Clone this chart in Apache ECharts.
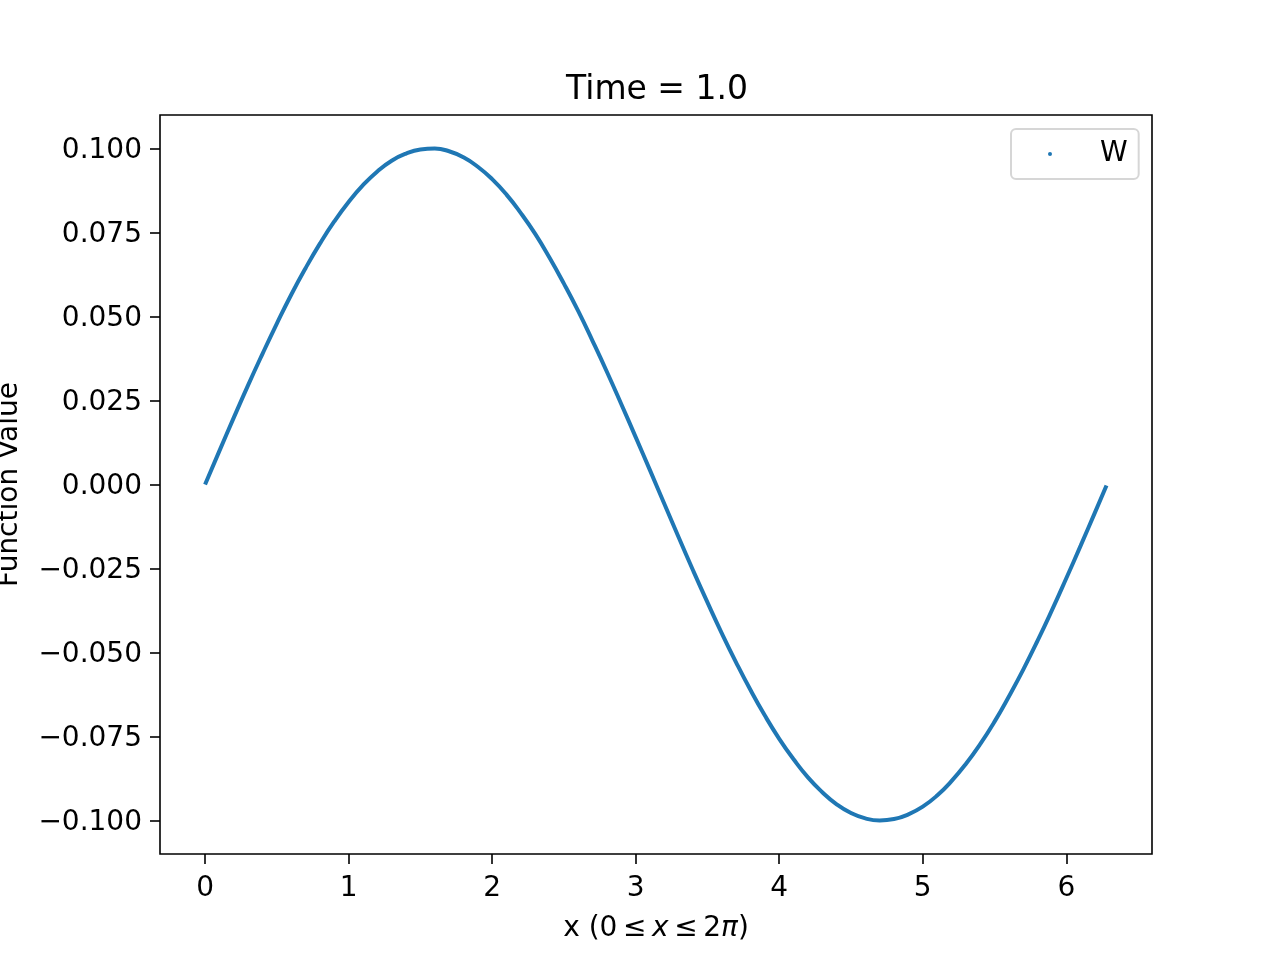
<!DOCTYPE html>
<html>
<head>
<meta charset="utf-8">
<script src="https://cdn.jsdelivr.net/npm/echarts@6/dist/echarts.min.js"></script>
<style>html,body{margin:0;padding:0;background:#fff;}#c{width:1280px;height:960px;}</style>
</head>
<body>
<div id="c"></div>
<script>
const seriesName = 'W';
const xValues = [0.0,0.1,0.2,0.3,0.4,0.5,0.6,0.7,0.8,0.9,1.0,1.1,1.2,1.3,1.4,1.5,1.6,1.7,1.8,1.9,2.0,2.1,2.2,2.3,2.4,2.5,2.6,2.7,2.8,2.9,3.0,3.1,3.2,3.3,3.4,3.5,3.6,3.7,3.8,3.9,4.0,4.1,4.2,4.3,4.4,4.5,4.6,4.7,4.8,4.9,5.0,5.1,5.2,5.3,5.4,5.5,5.6,5.7,5.8,5.9,6.0,6.1,6.2,6.28];
const wValues = [0.0000,0.0100,0.0199,0.0296,0.0389,0.0479,0.0565,0.0644,0.0717,0.0783,0.0841,0.0891,0.0932,0.0964,0.0985,0.0997,0.1000,0.0992,0.0974,0.0946,0.0909,0.0863,0.0808,0.0746,0.0675,0.0598,0.0516,0.0427,0.0335,0.0239,0.0141,0.0042,-0.0058,-0.0158,-0.0256,-0.0351,-0.0443,-0.0530,-0.0612,-0.0688,-0.0757,-0.0818,-0.0872,-0.0916,-0.0952,-0.0978,-0.0994,-0.1000,-0.0996,-0.0982,-0.0959,-0.0926,-0.0883,-0.0832,-0.0773,-0.0706,-0.0631,-0.0551,-0.0465,-0.0374,-0.0279,-0.0182,-0.0083,-0.0003];
const xTicks = [0,1,2,3,4,5,6];
const yTicks = [-0.1,-0.075,-0.05,-0.025,0,0.025,0.05,0.075,0.1];
const titleText = 'Time = 1.0';
const yLabel = 'Function Value';

const FONT = 'DejaVu Sans';
const chart = echarts.init(document.getElementById('c'));
const data = xValues.map((x, i) => [x, wValues[i]]);
const fmtY = v => '{a|' + (v < 0 ? '\u2212' : '') + Math.abs(v).toFixed(3) + '}';

chart.setOption({
  animation: false,
  backgroundColor: '#fff',
  title: {
    text: titleText, left: 652, top: 69, textAlign: 'center',
    textStyle: {fontFamily: FONT, fontSize: 33, fontWeight: 'normal', color: '#000'}
  },
  legend: {
    left: 1011, top: 129,
    padding: [11, 11, 11, 37],
    borderColor: '#d6d6d6', borderWidth: 2, borderRadius: 5,
    backgroundColor: '#fff',
    itemWidth: 4, itemHeight: 4, itemGap: 0,
    icon: 'circle',
    formatter: '{s|}{t|{name}}',
    textStyle: {
      fontFamily: FONT, fontSize: 28, color: '#000',
      rich: {
        s: {width: 43},
        t: {fontFamily: FONT, fontSize: 28, color: '#000'}
      }
    },
    data: [seriesName]
  },
  grid: {
    left: 160, right: 128, top: 115, bottom: 106,
    outerBoundsMode: 'none', containLabel: false,
    show: true, borderColor: '#000', borderWidth: 1.6, backgroundColor: 'transparent'
  },
  xAxis: {
    type: 'value', min: -0.314, max: 6.597,
    axisLine: {show: false, onZero: false},
    splitLine: {show: false},
    axisTick: {show: true, length: 10, customValues: xTicks, lineStyle: {color: '#000', width: 1.6}},
    axisLabel: {customValues: xTicks, margin: 21, fontFamily: FONT, fontSize: 28, color: '#000', formatter: v => String(v)},
    name: '{n|x (0\u2009\u2264\u2009}{i|x}{n|\u2009\u2264\u20092}{i|\u03c0}{n|)}',
    nameLocation: 'middle', nameGap: 61,
    nameTextStyle: {
      rich: {
        n: {fontFamily: FONT, fontSize: 28, color: '#000'},
        i: {fontFamily: FONT, fontSize: 28, color: '#000', fontStyle: 'italic'}
      }
    }
  },
  yAxis: {
    type: 'value', min: -0.11, max: 0.11,
    axisLine: {show: false, onZero: false},
    splitLine: {show: false},
    axisTick: {show: true, length: 10, customValues: yTicks, lineStyle: {color: '#000', width: 1.6}},
    axisLabel: {
      customValues: yTicks, margin: 18, fontFamily: FONT, fontSize: 28, color: '#000', formatter: fmtY,
      rich: {a: {fontFamily: FONT, fontSize: 28, color: '#000', padding: [5, 0, 0, 0]}}
    },
    name: yLabel, nameLocation: 'middle', nameGap: 136, nameRotate: 90,
    nameTextStyle: {fontFamily: FONT, fontSize: 28, color: '#000'}
  },
  series: [{
    name: seriesName, type: 'line', data: data, smooth: true,
    showSymbol: false, symbol: 'circle', symbolSize: 4,
    itemStyle: {color: '#1f77b4'},
    lineStyle: {color: '#1f77b4', width: 4}
  }]
});
</script>
</body>
</html>
